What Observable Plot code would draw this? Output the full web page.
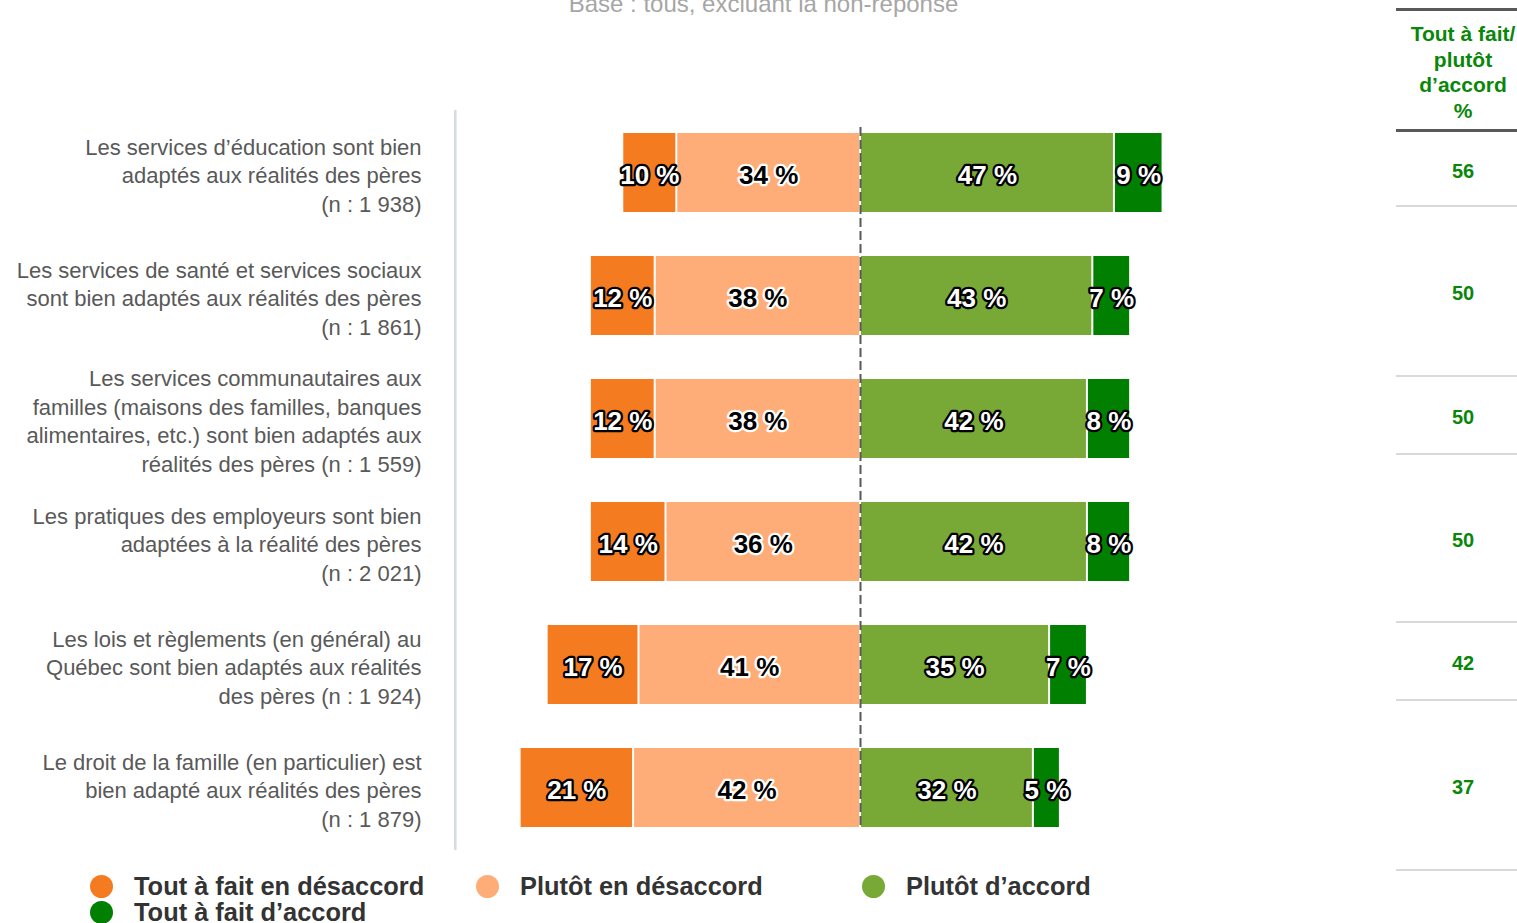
<!DOCTYPE html>
<html>
<head>
<meta charset="utf-8">
<script src="https://cdn.jsdelivr.net/npm/d3@7"></script>
<script src="https://cdn.jsdelivr.net/npm/@observablehq/plot@0.6"></script>
<style>
  html, body { margin:0; padding:0; background:#fff; width:1517px; height:923px; overflow:hidden; position:relative; font-family:"Liberation Sans", Arial, sans-serif; }
  #subtitle { position:absolute; left:0; width:1527px; top:-8px; text-align:center; font-size:24px; line-height:24px; color:#a6a6a6; }
  #chart { position:absolute; left:0; top:0; }
  #table { position:absolute; left:1396px; top:8px; width:134px; }
  #table .hdr { border-top:3px solid #595959; border-bottom:3px solid #595959; box-sizing:border-box; text-align:center; color:#0a870a; font-weight:bold; font-size:21px; line-height:25.5px; }
  #table .row { border-bottom:2px solid #d9d9d9; box-sizing:border-box; display:flex; align-items:center; justify-content:center; padding-top:5px; color:#0a870a; font-weight:bold; font-size:20px; }
  #legend { position:absolute; left:90px; top:873px; width:1200px; display:flex; flex-wrap:wrap; }
  #legend .item { width:386px; height:26px; display:flex; align-items:center; font-size:25.4px; font-weight:bold; color:#333; }
  #legend .dot { width:23px; height:23px; border-radius:50%; margin-right:21px; flex:none; }
</style>
</head>
<body>
<div id="subtitle">Base : tous, excluant la non-réponse</div>
<div id="chart"></div>
<div id="table"></div>
<div id="legend"></div>
<script>
const categories = [
  "Les services d’éducation sont bien\nadaptés aux réalités des pères\n(n : 1 938)",
  "Les services de santé et services sociaux\nsont bien adaptés aux réalités des pères\n(n : 1 861)",
  "Les services communautaires aux\nfamilles (maisons des familles, banques\nalimentaires, etc.) sont bien adaptés aux\nréalités des pères (n : 1 559)",
  "Les pratiques des employeurs sont bien\nadaptées à la réalité des pères\n(n : 2 021)",
  "Les lois et règlements (en général) au\nQuébec sont bien adaptés aux réalités\ndes pères (n : 1 924)",
  "Le droit de la famille (en particulier) est\nbien adapté aux réalités des pères\n(n : 1 879)"
];
const toutDesaccord   = [10, 12, 12, 14, 17, 21];
const plutotDesaccord = [34, 38, 38, 36, 41, 42];
const plutotAccord    = [47, 43, 42, 42, 35, 32];
const toutAccord      = [9, 7, 8, 8, 7, 5];
const totalAccord     = [56, 50, 50, 50, 42, 37];
const seriesNames = ["Tout à fait en désaccord", "Plutôt en désaccord", "Plutôt d’accord", "Tout à fait d’accord"];
const seriesColors = ["#F47B20", "#FFAD78", "#78A836", "#007F00"];
const tableHeader = "Tout à fait/<br>plutôt<br>d’accord<br>%";
const tableRowHeights = [75, 170, 78, 168, 78, 170];

// build diverging segments
const segs = [];
categories.forEach((cat, i) => {
  const a = toutDesaccord[i], b = plutotDesaccord[i], c = plutotAccord[i], d = toutAccord[i];
  segs.push({cat, series: seriesNames[0], value: a, x1: -(a + b), x2: -b, light: false});
  segs.push({cat, series: seriesNames[1], value: b, x1: -b, x2: 0, light: true});
  segs.push({cat, series: seriesNames[2], value: c, x1: 0, x2: c, light: false});
  segs.push({cat, series: seriesNames[3], value: d, x1: c, x2: c + d, light: false});
});

const plot = Plot.plot({
  width: 1517,
  height: 860,
  marginTop: 110,
  marginBottom: 10,
  marginLeft: 471,
  marginRight: 268,
  style: {fontFamily: "'Liberation Sans', Arial, sans-serif", background: "transparent"},
  x: {domain: [-72, 72], axis: null},
  y: {domain: categories, paddingInner: 0.36, paddingOuter: 0.18, axis: null},
  color: {domain: seriesNames, range: seriesColors},
  marks: [
    Plot.ruleX([-75], {stroke: "#d3dbe5", strokeWidth: 2.5}),
    Plot.barX(segs, {x1: "x1", x2: "x2", y: "cat", fill: "series", insetLeft: 1, insetRight: 1}),
    Plot.ruleX([0], {stroke: "#595959", strokeWidth: 2, strokeDasharray: "9,4", insetTop: 17, insetBottom: 21}),
    Plot.text(segs, {
      x: d => (d.x1 + d.x2) / 2, y: "cat", text: d => d.value + " %",
      fill: d => d.light ? "#000" : "#fff",
      stroke: d => d.light ? "#fff" : "#000",
      strokeWidth: 4.5, paintOrder: "stroke", strokeLinejoin: "round",
      fontSize: 26, fontWeight: "bold", dy: 3
    }),
    Plot.axisY({
      anchor: "left", tickSize: 0, tickPadding: 50, fontSize: 22, lineHeight: 1.3,
      fill: "#595959", textAnchor: "end", dy: 1, label: null
    })
  ]
});
document.getElementById("chart").appendChild(plot);

// table
const table = document.getElementById("table");
const hdr = document.createElement("div");
hdr.className = "hdr";
hdr.style.height = "124px";
hdr.style.paddingTop = "10px";
hdr.innerHTML = tableHeader;
table.appendChild(hdr);
totalAccord.forEach((v, i) => {
  const r = document.createElement("div");
  r.className = "row";
  r.style.height = tableRowHeights[i] + "px";
  r.textContent = v;
  table.appendChild(r);
});

// legend
const legend = document.getElementById("legend");
seriesNames.forEach((name, i) => {
  const it = document.createElement("div");
  it.className = "item";
  it.innerHTML = `<span class="dot" style="background:${seriesColors[i]}"></span><span>${name}</span>`;
  legend.appendChild(it);
});
</script>
</body>
</html>
